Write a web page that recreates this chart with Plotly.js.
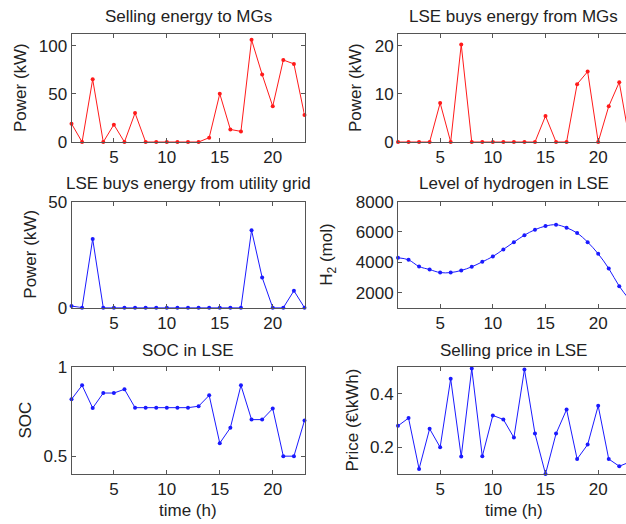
<!DOCTYPE html>
<html>
<head>
<meta charset="utf-8">
<script src="https://cdn.plot.ly/plotly-3.0.1.min.js"></script>
<style>
html,body{margin:0;padding:0;overflow:hidden;background:#fff;width:626px;height:524px;}
#chart{width:640px;height:524px;}
</style>
</head>
<body>
<div id="chart"></div>
<script>
// Hours
const hours = [1,2,3,4,5,6,7,8,9,10,11,12,13,14,15,16,17,18,19,20,21,22,23];

// Series values
const sellingToMGs = [19,0,65,0,18,0,30,0,0,0,0,0,0,4.5,50,13,11,106,70,37,85,81,28];
const buyFromMGs   = [0,0,0,0,8.1,0,20.2,0,0,0,0,0,0,0,5.4,0,0,12,14.6,0,7.4,12.4,0];
const buyFromGrid  = [0.8,0,32.4,0,0,0,0,0,0,0,0,0,0,0,0,0,0,36.5,14.3,0,0,8,0];
const hydrogen     = [4300,4160,3720,3520,3320,3320,3460,3700,4030,4380,4850,5330,5790,6150,6390,6480,6280,5930,5330,4560,3590,2420,1500];
const soc          = [0.819,0.897,0.77,0.854,0.854,0.875,0.772,0.772,0.772,0.772,0.772,0.772,0.78,0.841,0.573,0.659,0.897,0.705,0.705,0.767,0.5,0.5,0.7];
const price        = [0.28,0.309,0.119,0.269,0.2,0.456,0.165,0.494,0.166,0.319,0.304,0.236,0.491,0.251,0.1,0.251,0.341,0.156,0.21,0.355,0.156,0.129,0.145];

// Titles and tick labels
const panelTitles = ["Selling energy to MGs","LSE buys energy from MGs","LSE buys energy from utility grid","Level of hydrogen in LSE","SOC in LSE","Selling price in LSE"];
const yTitles = ["Power (kW)","Power (kW)","Power (kW)","H<sub>2</sub> (mol)","SOC","Price (€\\kWh)"];
const xTickVals = [5,10,15,20];
const yTickVals = [[0,50,100],[0,10,20],[0,50],[2000,4000,6000,8000],[0.5,1],[0.2,0.4]];
const yTickText = [["0","50","100"],["0","10","20"],["0","50"],["2000","4000","6000","8000"],["0.5","1"],["0.2","0.4"]];
const yRanges = [[0,112],[0,22.4],[0,50],[1000,8000],[0.4,1],[0.1,0.5]];

const W = 640, H = 524;
const colX = [[71.5,304.5],[398,629.8]];
const rowY = [[34,142],[201.7,307.7],[367,474]];
const titleY = [16,183,350];
const yTitleX = [20,355,31,328,25,352];

const seriesList = [sellingToMGs,buyFromMGs,buyFromGrid,hydrogen,soc,price];
const colors = ["#ff1a1a","#ff1a1a","#1a1aff","#1a1aff","#1a1aff","#1a1aff"];

const FONT = "Liberation Sans, Arial, sans-serif";
const traces = [];
const layout = {
  width: W, height: H,
  margin: {l:0,r:0,t:0,b:0},
  paper_bgcolor: "#fff", plot_bgcolor: "#fff",
  showlegend: false,
  font: {family: FONT, size: 17, color: "#222"},
  annotations: []
};

for (let i = 0; i < 6; i++) {
  const r = Math.floor(i/2), c = i % 2;
  const ax = i === 0 ? "" : String(i+1);
  traces.push({
    x: hours, y: seriesList[i],
    xaxis: "x"+ax, yaxis: "y"+ax,
    type: "scatter", mode: "lines+markers",
    line: {color: colors[i], width: 1, shape: i === 3 ? "spline" : "linear"},
    marker: {color: colors[i], size: 4},
    cliponaxis: false
  });
  const axCommon = {
    showgrid: false, zeroline: false,
    showline: true, linecolor: "#555", linewidth: 1, mirror: "ticks",
    ticks: "inside", ticklen: 4, tickcolor: "#555", tickwidth: 1,
    tickfont: {family: FONT, size: 17, color: "#222"},
    fixedrange: true
  };
  layout["xaxis"+ax] = Object.assign({}, axCommon, {
    domain: [colX[c][0]/W, colX[c][1]/W],
    anchor: "y"+ax,
    range: [1,23],
    tickmode: "array", tickvals: xTickVals, ticktext: xTickVals.map(String)
  });
  layout["yaxis"+ax] = Object.assign({}, axCommon, {
    domain: [1-rowY[r][1]/H, 1-rowY[r][0]/H],
    anchor: "x"+ax,
    range: yRanges[i],
    tickmode: "array", tickvals: yTickVals[i], ticktext: yTickText[i]
  });
  layout.annotations.push({
    text: panelTitles[i], xref: "paper", yref: "paper",
    x: (colX[c][0]+colX[c][1])/2/W, y: 1-titleY[r]/H,
    xanchor: "center", yanchor: "middle", showarrow: false,
    font: {family: FONT, size: 17, color: "#222"}
  });
  layout.annotations.push({
    text: yTitles[i], xref: "paper", yref: "paper",
    x: yTitleX[i]/W, y: 1-(rowY[r][0]+rowY[r][1])/2/H,
    xanchor: "center", yanchor: "middle", textangle: -90, showarrow: false,
    font: {family: FONT, size: 17, color: "#222"}
  });
  if (r === 2) {
    layout.annotations.push({
      text: "time (h)", xref: "paper", yref: "paper",
      x: (colX[c][0]+colX[c][1])/2/W, y: 1-510/H,
      xanchor: "center", yanchor: "middle", showarrow: false,
      font: {family: FONT, size: 17, color: "#222"}
    });
  }
}

Plotly.newPlot("chart", traces, layout, {displayModeBar: false, staticPlot: true});
</script>
</body>
</html>
